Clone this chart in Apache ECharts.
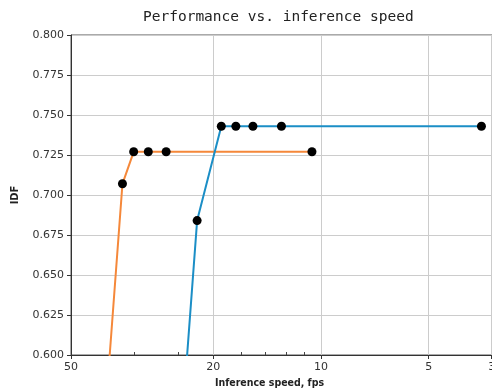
<!DOCTYPE html>
<html>
<head>
<meta charset="utf-8">
<script src="https://cdn.jsdelivr.net/npm/echarts@6/dist/echarts.min.js"></script>
<style>
  html, body { margin: 0; padding: 0; background: #fff; }
  #chart { width: 492px; height: 392px; }
</style>
</head>
<body>
<div id="chart"></div>
<script>
    // data (x = inference speed in fps, y = IDF)
    var orangeFps = [40.5, 35.9, 33.4, 30.4, 27.1, 10.6];
    var orangeIdf = [0.550, 0.707, 0.727, 0.727, 0.727, 0.727];
    var blueFps = [24.6, 22.2, 19.0, 17.3, 15.5, 12.9, 3.56];
    var blueIdf = [0.550, 0.684, 0.743, 0.743, 0.743, 0.743, 0.743];

    // tick positions in fps (the last one is 300 ms, printed as "3")
    var xTickFps = [50, 20, 10, 5, 1000 / 300];
    var xMinorFps = [1000 / 30, 1000 / 40, 1000 / 60, 1000 / 70, 1000 / 80, 1000 / 90];

    function pairs(xs, ys) {
        return xs.map(function (x, i) { return [x, ys[i]]; });
    }

    var boldNarrow = '"Liberation Sans Narrow", "DejaVu Sans Condensed", "Roboto Condensed", sans-serif';

    var chart = echarts.init(document.getElementById('chart'));
    var option = {
        animation: false,
        title: {
            text: 'Performance vs. inference speed',
            left: 138,
            top: 5,
            textStyle: {
                fontFamily: 'DejaVu Sans Mono',
                fontSize: 14.5,
                fontWeight: 'normal',
                color: '#222'
            }
        },
        grid: {
            left: 71,
            top: 35,
            height: 320,
            width: 427,
            outerBoundsMode: 'none',
            containLabel: false,
            show: true,
            borderColor: '#555',
            borderWidth: 1
        },
        xAxis: [
            {
                type: 'log',
                logBase: 10,
                inverse: true,
                min: 3.2,
                max: 50,
                position: 'bottom',
                name: 'Inference speed, fps',
                nameLocation: 'middle',
                nameGap: 21,
                nameTextStyle: {
                    fontFamily: boldNarrow,
                    fontWeight: 'bold',
                    fontSize: 10.5,
                    color: '#222',
                    padding: [0, 30, 0, 0]
                },
                axisLine: { show: true, lineStyle: { color: '#333', width: 1 } },
                axisTick: { show: true, customValues: xTickFps, length: 4, lineStyle: { color: '#333' } },
                axisLabel: {
                    customValues: xTickFps,
                    margin: 7,
                    fontFamily: 'DejaVu Sans',
                    fontSize: 11,
                    color: '#333',
                    formatter: function (v) { return String(Math.round(v)); }
                },
                splitLine: { show: true, lineStyle: { color: '#ccc', width: 1 } },
                minorTick: { show: false }
            },
            {
                type: 'log',
                logBase: 10,
                inverse: true,
                min: 3.2,
                max: 50,
                position: 'bottom',
                axisLine: { show: false },
                axisTick: { show: true, inside: true, customValues: xMinorFps, length: 3, lineStyle: { color: '#444' } },
                axisLabel: { show: false },
                splitLine: { show: false }
            }
        ],
        yAxis: {
            type: 'value',
            min: 0.6,
            max: 0.8,
            interval: 0.025,
            name: 'IDF',
            nameLocation: 'middle',
            nameRotate: 90,
            nameGap: 50,
            nameTextStyle: {
                fontFamily: boldNarrow,
                fontWeight: 'bold',
                fontSize: 11,
                color: '#222'
            },
            axisLine: { show: true, lineStyle: { color: '#333', width: 1 } },
            axisTick: { show: true, length: 4, lineStyle: { color: '#333' } },
            axisLabel: {
                margin: 7,
                fontFamily: 'DejaVu Sans',
                fontSize: 11,
                color: '#333',
                formatter: function (v) { return v.toFixed(3); }
            },
            splitLine: { show: true, lineStyle: { color: '#ccc', width: 1 } }
        },
        series: [
            {
                type: 'line',
                data: pairs(orangeFps, orangeIdf),
                lineStyle: { color: '#f5883a', width: 2 },
                itemStyle: { color: '#000' },
                symbol: 'circle',
                symbolSize: 9,
                clip: true
            },
            {
                type: 'line',
                data: pairs(blueFps, blueIdf),
                lineStyle: { color: '#1b8ec6', width: 2 },
                itemStyle: { color: '#000' },
                symbol: 'circle',
                symbolSize: 9,
                clip: true
            }
        ]
    };
    chart.setOption(option);
</script>
</body>
</html>
